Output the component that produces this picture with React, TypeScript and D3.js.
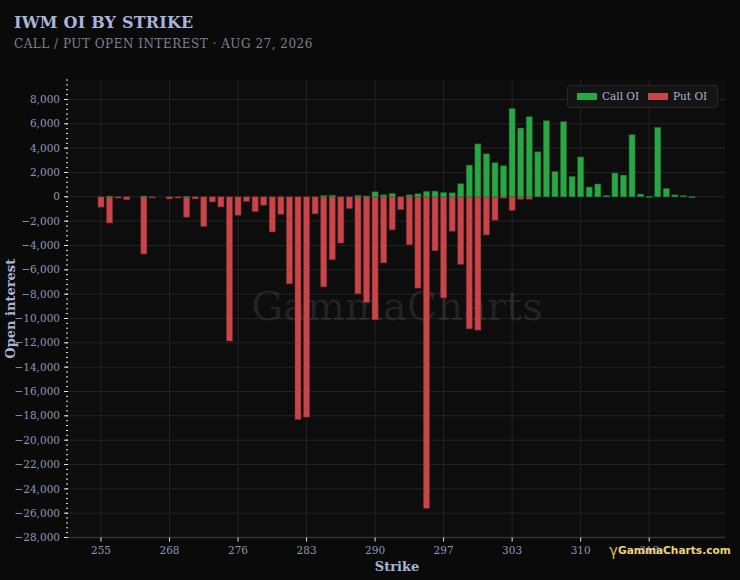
import React from 'react';
import * as d3 from 'd3';

// strikes (categorical axis, a label every 8th strike)
const strikes = [
  255, 256, 258, 260, 262, 263, 265, 266,
  268, 269, 270, 271, 272, 273, 274, 275,
  276, 277, 278, 279, 280, 281, 282, 282.5,
  283, 284, 285, 286, 287, 288, 289, 289.5,
  290, 291, 292, 293, 294, 295, 296, 296.5,
  297, 298, 299, 300, 301, 301.5, 302, 302.5,
  303, 304, 305, 306, 307, 308, 309, 309.5,
  310, 311, 312, 313, 314, 315, 316, 317,
  318, 319, 320, 321, 322, 325,
];

const callOI = [
  0, 50, 0, 0, 0, 60, 0, 0,
  0, 0, 30, 0, 0, 0, 0, 0,
  0, 0, 0, 0, 0, 0, 0, 0,
  0, 0, 100, 130, 0, 0, 110, 60,
  410, 160, 270, 0, 160, 250, 440, 460,
  350, 330, 1070, 2600, 4350, 3530, 2800, 2550,
  7250, 5650, 6580, 3700, 6250, 2080, 6170, 1670,
  3270, 800, 1050, 100, 1950, 1780, 5100, 220,
  30, 5700, 680, 160, 90, 20,
];

const putOI = [
  -850, -2150, -100, -230, 0, -4700, -80, 0,
  -170, -100, -1670, -170, -2430, -420, -830, -11850,
  -1510, -370, -1210, -690, -2880, -1430, -7150, -18300,
  -18100, -1400, -7400, -5170, -3800, -960, -7970, -8680,
  -10100, -5430, -2710, -1050, -3930, -7500, -25600, -4430,
  -8300, -2830, -5550, -10850, -10960, -3130, -1920, -110,
  -1110, -200, -200, 0, 0, 0, 0, 0,
  0, 0, 0, 0, 0, 0, 0, 0,
  0, 0, 0, 0, 0, 0,
];

const yMajorTicks = d3.range(-28000, 8001, 2000);
const yMinorTicks = d3.range(-28000, 9601, 400);
const xTickEvery = 8;

const W = 740;
const H = 580;
const plot = { left: 68, right: 725, top: 80, bottom: 537.5 };

const GREEN = '#2aa745';
const RED = '#c8454a';
const LABEL = '#a8b4d8';
const TICK = '#8b97b5';
const FONT = '"DejaVu Serif", serif';

export default function App() {
  const idx = strikes.map((_, i) => i);
  const x = d3.scalePoint<number>()
    .domain(idx)
    .range([plot.left, plot.right])
    .padding(3.85);
  const y = d3.scaleLinear().domain([-28000, 9600]).range([plot.bottom, plot.top]);
  const barW = 6;
  const xTicks = idx.filter(i => i % xTickEvery === 0);
  const fmt = d3.format(',');

  return (
    <div style={{ position: 'fixed', left: 0, top: 0, width: W, height: H, background: '#0a0a0a' }}>
      <svg width={W} height={H} style={{ display: 'block' }} fontFamily={FONT}>
        <rect width={W} height={H} fill="#0a0a0a" />
        <text x={14} y={28} fill={LABEL} fontSize={16} fontWeight="bold" letterSpacing={0.2}>IWM OI BY STRIKE</text>
        <text x={14} y={48} fill="#7b8190" fontSize={12} letterSpacing={0.5}>CALL / PUT OPEN INTEREST · AUG 27, 2026</text>

        <rect x={plot.left} y={plot.top} width={plot.right - plot.left} height={plot.bottom - plot.top} fill="#0d0d0d" />

        {/* grid */}
        {yMajorTicks.map(t => (
          <line key={'gy' + t} x1={plot.left} x2={plot.right} y1={y(t)} y2={y(t)} stroke="#232323" strokeWidth={1} />
        ))}
        {xTicks.map(i => (
          <line key={'gx' + i} x1={x(i)} x2={x(i)} y1={plot.top} y2={plot.bottom} stroke="#232323" strokeWidth={1} />
        ))}

        <text x={397} y={320} textAnchor="middle" fontSize={40} fill="#ffffff" fillOpacity={0.09}>GammaCharts</text>

        {/* bars */}
        {putOI.map((v, i) => v === 0 ? null : (
          <rect key={'p' + i} x={(x(i) as number) - barW / 2} y={y(0)} width={barW}
            height={Math.max(1, y(v) - y(0))} fill={RED} stroke="#8a2a2e" strokeOpacity={0.6} strokeWidth={0.8} />
        ))}
        {callOI.map((v, i) => v === 0 ? null : (
          <rect key={'c' + i} x={(x(i) as number) - barW / 2} y={y(v)} width={barW}
            height={Math.max(1, y(0) - y(v))} fill={GREEN} stroke="#1c6e30" strokeOpacity={0.6} strokeWidth={0.8} />
        ))}

        {/* y axis */}
        {yMinorTicks.map(t => (
          <line key={'ym' + t} x1={plot.left - 2} x2={plot.left} y1={y(t)} y2={y(t)} stroke="#e8e8e8" strokeWidth={1} />
        ))}
        {yMajorTicks.map(t => (
          <g key={'yt' + t}>
            <line x1={plot.left - 4} x2={plot.left} y1={y(t)} y2={y(t)} stroke="#e8e8e8" strokeWidth={1} />
            <text x={plot.left - 8} y={y(t)} dy="0.35em" textAnchor="end" fontSize={10.5} fill={TICK}>{fmt(t)}</text>
          </g>
        ))}
        <text transform={`translate(15,${(plot.top + plot.bottom) / 2}) rotate(-90)`} textAnchor="middle"
          fontSize={13} fontWeight="bold" fill={LABEL}>Open interest</text>

        {/* x axis */}
        <line x1={plot.left} x2={plot.right} y1={plot.bottom} y2={plot.bottom} stroke="#333333" strokeWidth={1.5} />
        {xTicks.map(i => (
          <g key={'xt' + i}>
            <line x1={x(i)} x2={x(i)} y1={plot.bottom} y2={plot.bottom + 4} stroke="#e8e8e8" strokeWidth={1} />
            <text x={x(i)} y={plot.bottom + 16} textAnchor="middle" fontSize={10.5} fill={TICK}>{strikes[i]}</text>
          </g>
        ))}
        <text x={397} y={571} textAnchor="middle" fontSize={13} fontWeight="bold" fill={LABEL}>Strike</text>

        {/* legend */}
        <rect x={567.5} y={85.5} width={150} height={22} rx={2} fill="#141414" stroke="#262626" />
        <rect x={577} y={93} width={20} height={7} fill={GREEN} />
        <text x={602} y={96.5} dy="0.35em" fontSize={10.5} fill={LABEL}>Call OI</text>
        <rect x={648} y={93} width={20} height={7} fill={RED} />
        <text x={673} y={96.5} dy="0.35em" fontSize={10.5} fill={LABEL}>Put OI</text>

        {/* brand */}
        <text x={609} y={556} fontSize={15} fill="#d8b040" fontFamily='"DejaVu Sans", sans-serif'>γ</text>
        <text x={618} y={554} fontSize={10.6} fontWeight="bold" fill="#ecd27a" fontFamily='"DejaVu Sans", sans-serif'>GammaCharts.com</text>
      </svg>
    </div>
  );
}
